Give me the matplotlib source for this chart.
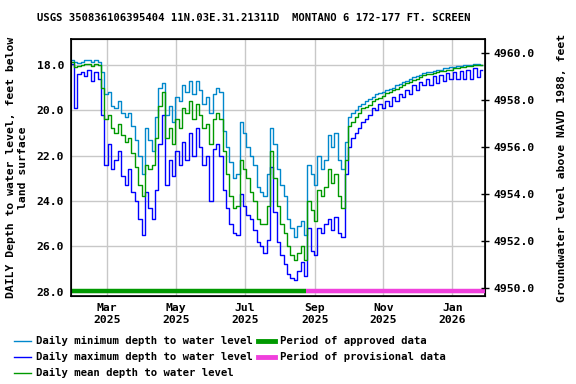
import matplotlib
matplotlib.use("Agg")
import matplotlib.pyplot as plt
import matplotlib.dates as mdates
from matplotlib.lines import Line2D
from matplotlib.ticker import FixedLocator, FormatStrFormatter
import pandas as pd
import numpy as np

# ---------------- data (3-day samples) ----------------
start_date = "2025-01-29"
step_days = 3

daily_min = [
    17.80, 17.85, 17.90, 17.85, 17.80, 17.80, 17.85, 17.80, 17.85, 18.30,
    19.30, 19.20, 19.80, 19.90, 19.60, 20.10, 20.30, 20.10, 20.70, 21.30,
    22.00, 22.80, 20.80, 21.30, 21.80, 20.30, 19.00, 18.80, 20.20, 19.80,
    20.50, 19.40, 19.60, 18.90, 19.20, 18.70, 19.30, 18.70, 19.10, 19.70,
    19.40, 20.10, 19.30, 19.00, 19.20, 20.90, 21.60, 22.30, 23.00, 22.80,
    20.50, 21.00, 21.60, 22.00, 22.40, 23.40, 23.60, 23.80, 22.80, 20.80,
    21.50, 22.60, 23.30, 23.80, 24.80, 25.20, 25.60, 25.10, 24.90, 25.50,
    22.40, 22.80, 23.30, 22.00, 22.60, 22.20, 21.10, 21.60, 21.00, 22.20,
    22.60, 21.40, 20.30, 20.10, 20.00, 19.80, 19.70, 19.60, 19.50, 19.40,
    19.30, 19.25, 19.20, 19.10, 19.05, 19.00, 18.90, 18.85, 18.75, 18.70,
    18.60, 18.55, 18.50, 18.45, 18.35, 18.30, 18.30, 18.25, 18.20, 18.20,
    18.15, 18.15, 18.10, 18.10, 18.05, 18.05, 18.00, 18.00, 18.00, 17.95,
    17.95, 17.98,
]
daily_mean = [
    17.85, 18.10, 18.05, 18.00, 17.95, 17.95, 18.05, 17.95, 18.00, 19.00,
    20.40, 20.20, 20.80, 21.00, 20.60, 21.10, 21.40, 21.20, 21.90, 22.50,
    23.30, 23.80, 22.40, 22.60, 22.40, 21.20, 19.80, 19.20, 21.20, 20.80,
    21.50, 20.40, 20.80, 19.90, 20.10, 19.60, 20.40, 19.70, 20.20, 20.80,
    20.60, 21.50, 20.40, 20.10, 20.40, 21.80, 22.80, 23.80, 24.30, 24.20,
    22.20, 22.60, 23.00, 23.60, 24.00, 24.80, 25.00, 25.00, 24.20, 21.80,
    23.00, 24.20, 25.00, 25.40, 26.00, 26.40, 26.60, 26.30, 26.00, 26.60,
    24.00, 24.40, 24.90, 23.50, 23.80, 23.40, 22.60, 23.20, 22.80, 23.80,
    24.30, 22.20, 20.70, 20.50, 20.30, 20.10, 19.90, 19.85, 19.75, 19.60,
    19.50, 19.45, 19.35, 19.25, 19.20, 19.10, 19.05, 18.95, 18.90, 18.80,
    18.75, 18.65, 18.60, 18.55, 18.45, 18.40, 18.40, 18.35, 18.30, 18.25,
    18.25, 18.20, 18.20, 18.15, 18.12, 18.10, 18.08, 18.05, 18.05, 18.02,
    18.00, 18.02,
]
daily_max = [
    17.95, 19.90, 18.40, 18.30, 18.50, 18.20, 18.70, 18.30, 18.60, 20.20,
    22.40, 21.50, 22.60, 22.20, 21.80, 22.90, 23.30, 22.60, 23.60, 24.00,
    24.80, 25.50, 23.60, 24.30, 24.80, 23.50, 21.50, 20.20, 23.30, 22.20,
    22.90, 21.80, 22.40, 21.40, 22.20, 21.00, 22.00, 20.80, 21.60, 22.40,
    22.00, 24.00, 21.70, 21.50, 22.00, 23.50, 24.30, 25.00, 25.40, 25.50,
    23.70, 24.20, 24.60, 24.80, 25.30, 25.80, 26.00, 26.30, 25.70, 22.50,
    24.50, 25.80, 26.40, 26.80, 27.20, 27.40, 27.50, 27.10, 26.70, 27.30,
    25.20, 26.20, 26.40, 25.20, 25.40, 25.00, 24.80, 25.30, 24.70, 25.40,
    25.60, 22.80, 21.60, 21.20, 21.00, 20.80, 20.50, 20.40, 20.20, 19.90,
    20.00, 19.70, 19.90, 19.60, 19.80, 19.40, 19.60, 19.30, 19.40, 19.10,
    19.30, 18.90, 19.10, 18.75, 18.90, 18.60, 18.90, 18.50, 18.80, 18.45,
    18.70, 18.35, 18.60, 18.30, 18.60, 18.25, 18.60, 18.20, 18.60, 18.15,
    18.55, 18.20,
]

approved_start = "2025-01-28"
approved_end = "2025-08-24"
provisional_end = "2026-01-30"

title = "USGS 350836106395404 11N.03E.31.21311D  MONTANO 6 172-177 FT. SCREEN"
left_label = "DAILY Depth to water level, feet below\nland surface"
right_label = "Groundwater level above NAVD 1988, feet"
depth_ticks = [18, 20, 22, 24, 26, 28]
elev_ticks = [4950, 4952, 4954, 4956, 4958, 4960]
month_ticks = ["2025-03-01", "2025-05-01", "2025-07-01", "2025-09-01", "2025-11-01", "2026-01-01"]
legend_labels = ["Daily minimum depth to water level",
                 "Daily maximum depth to water level",
                 "Daily mean depth to water level",
                 "Period of approved data",
                 "Period of provisional data"]

# ---------------- styling ----------------
C_MIN = "#0088cc"
C_MAX = "#0000ff"
C_MEAN = "#009900"
C_APP = "#009900"
C_PROV = "#f040dc"
FONT = "DejaVu Sans Mono"

W, H = 576, 384
fig = plt.figure(figsize=(W / 100, H / 100), dpi=100)
ax_l, ax_r, ax_t, ax_b = 71, 485, 39.3, 296
ax = fig.add_axes([ax_l / W, 1 - ax_b / H, (ax_r - ax_l) / W, (ax_b - ax_t) / H])

dates = pd.date_range(start_date, periods=len(daily_min), freq=f"{step_days}D")

ax.plot(dates, daily_min, color=C_MIN, lw=1.0, drawstyle="steps-mid", zorder=3)
ax.plot(dates, daily_max, color=C_MAX, lw=1.0, drawstyle="steps-mid", zorder=2)
ax.plot(dates, daily_mean, color=C_MEAN, lw=1.0, drawstyle="steps-mid", zorder=4)

bar_y = 27.97
ax.plot(pd.to_datetime([approved_start, approved_end]), [bar_y, bar_y], color=C_APP, lw=3.2,
        solid_capstyle="butt", zorder=5)
ax.plot(pd.to_datetime([approved_end, provisional_end]), [bar_y, bar_y], color=C_PROV, lw=3.2,
        solid_capstyle="butt", zorder=5)

ax.set_xlim(pd.Timestamp("2025-01-28"), pd.Timestamp("2026-01-30"))
ax.set_ylim(28.19, 16.865)

ax.xaxis.set_major_locator(FixedLocator(mdates.date2num(pd.to_datetime(month_ticks))))
ax.xaxis.set_major_formatter(mdates.DateFormatter("%b\n%Y"))
ax.yaxis.set_major_locator(FixedLocator(depth_ticks))
ax.yaxis.set_major_formatter(FormatStrFormatter("%.1f"))
ax.grid(True, color="#c8c8c8", lw=1.0, zorder=0)
ax.set_axisbelow(True)
ax.tick_params(axis="both", length=0, pad=5, labelsize=8.2)
for lab in ax.get_xticklabels() + ax.get_yticklabels():
    lab.set_fontfamily(FONT)
    lab.set_fontweight("bold")
for s in ax.spines.values():
    s.set_linewidth(1.2)

ax.set_ylabel(left_label, fontfamily=FONT, fontweight="bold", fontsize=8.2, labelpad=6,
              linespacing=1.3)

ax2 = ax.twinx()
ax2.set_ylim(4949.65, 4960.6)
ax2.yaxis.set_major_locator(FixedLocator(elev_ticks))
ax2.yaxis.set_major_formatter(FormatStrFormatter("%.1f"))
ax2.tick_params(axis="y", direction="inout", length=6, width=1.0, pad=3, labelsize=8.2)
for lab in ax2.get_yticklabels():
    lab.set_fontfamily(FONT)
    lab.set_fontweight("bold")
ax2.set_ylabel(right_label, fontfamily=FONT, fontweight="bold", fontsize=8.2, labelpad=16)

fig.text(37 / W, 1 - 18 / H, title, fontfamily=FONT, fontweight="bold", fontsize=7.6,
         ha="left", va="center")

# legend (manual)
rows = [341, 357, 373]
items = [
    (14, 31, rows[0], C_MIN, 1.0, legend_labels[0]),
    (14, 31, rows[1], C_MAX, 1.0, legend_labels[1]),
    (14, 31, rows[2], C_MEAN, 1.0, legend_labels[2]),
    (258, 275, rows[0], C_APP, 3.5, legend_labels[3]),
    (258, 275, rows[1], C_PROV, 3.5, legend_labels[4]),
]
for x0, x1, yy, col, lw, txt in items:
    fig.add_artist(Line2D([x0 / W, x1 / W], [1 - yy / H, 1 - yy / H], color=col, lw=lw,
                          transform=fig.transFigure))
    fig.text((x1 + 5) / W, 1 - yy / H, txt, fontfamily=FONT, fontweight="bold",
             fontsize=7.7, ha="left", va="center")

fig.savefig("out.png", dpi=100)
